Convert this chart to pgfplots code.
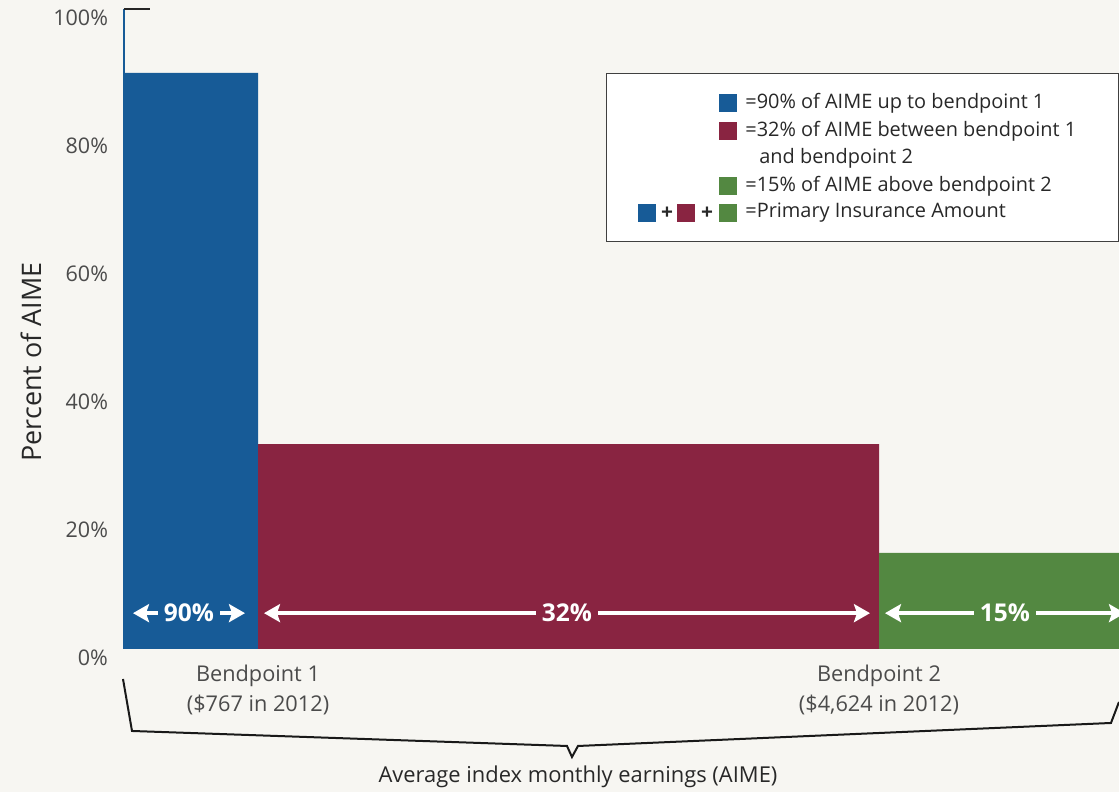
\documentclass[border=0pt]{standalone}
\usepackage{pgfplots}
\pgfplotsset{compat=1.18}
\usepackage{fontspec}
\setmainfont{Open Sans}
\usetikzlibrary{arrows.meta}
\definecolor{bgc}{RGB}{247,246,242}
\definecolor{bblue}{RGB}{23,91,151}
\definecolor{bred}{RGB}{137,36,65}
\definecolor{bgreen}{RGB}{83,136,65}
\definecolor{txt}{RGB}{75,75,75}
\definecolor{ltxt}{RGB}{40,40,40}
\begin{document}
\begin{tikzpicture}
\useasboundingbox (0,0) rectangle (559.5bp,396bp);
\fill[bgc] (0,0) rectangle (559.5bp,396bp);
\begin{axis}[at={(61.5bp,71.5bp)}, anchor=south west, scale only axis,
  width=498bp, height=320bp, xmin=0, xmax=996, ymin=0, ymax=100,
  axis line style={draw=none}, xtick=\empty, ytick={0,20,...,100},
  yticklabels={0\%,20\%,40\%,60\%,80\%,100\%}, major tick length=0pt,
  yticklabel style={font=\fontsize{10.8}{13}\selectfont, text=txt, yshift=-4.5bp, xshift=-4bp},
  clip=false]
\addplot[const plot, fill=bblue, draw=none] coordinates {(0,90) (135,90)} \closedcycle;
\addplot[const plot, fill=bred, draw=none] coordinates {(135,32) (756,32)} \closedcycle;
\addplot[const plot, fill=bgreen, draw=none] coordinates {(756,15) (996,15)} \closedcycle;
\tikzset{wa/.style={white, line width=2.2bp, {Stealth[length=8bp,width=9bp,inset=1.5bp]}-{Stealth[length=8bp,width=9bp,inset=1.5bp]}},
  wl/.style={midway, inner xsep=3bp, inner ysep=1bp, font=\bfseries\fontsize{12.3}{14}\selectfont, text=white}}
\draw[wa] (axis cs:10,5.6) -- (axis cs:122,5.6) node[wl, fill=bblue]{90\%};
\draw[wa] (axis cs:141,5.6) -- (axis cs:747,5.6) node[wl, fill=bred]{32\%};
\draw[wa] (axis cs:762,5.6) -- (axis cs:1002,5.6) node[wl, fill=bgreen]{15\%};
\end{axis}
\begin{scope}[x=0.5bp,y=-0.5bp,shift={(0,396bp)}]
  \draw[bblue, line width=0.6bp] (124,9) -- (124,649);
  \draw[black!85, line width=1.1bp] (124,9) -- (150,9);
  \node[rotate=90, text=ltxt, font=\fontsize{13.5}{15}\selectfont] at (31,362) {Percent of AIME};
  \node[align=center, text=txt, font=\fontsize{10.9}{15}\selectfont] at (258,690) {Bendpoint 1\\(\$767 in 2012)};
  \node[align=center, text=txt, font=\fontsize{10.9}{15}\selectfont] at (879,690) {Bendpoint 2\\(\$4,624 in 2012)};
  \draw[black!90, line width=1bp, line join=miter] (123,679) -- (132,731) -- (567,746) -- (572,757) -- (578,746) -- (1111,723) -- (1119,702);
  \node[text=ltxt, font=\fontsize{11}{13}\selectfont] at (578,777) {Average index monthly earnings (AIME)};
  \draw[fill=white, draw=black!75, line width=0.5bp] (607,74) rectangle (1118.5,242);
  \fill[bblue] (719,94) rectangle (737,112);
  \fill[bred] (719,122) rectangle (737,140);
  \fill[bgreen] (719,177) rectangle (737,195);
  \fill[bblue] (638,204) rectangle (656,222);
  \fill[bred] (677,204) rectangle (695,222);
  \fill[bgreen] (719,204) rectangle (737,222);
  \tikzset{lt/.style={anchor=west, text=ltxt, font=\fontsize{10}{12}\selectfont, inner sep=0pt}}
  \node[lt] at (745,103) {=90\% of AIME up to bendpoint 1};
  \node[lt] at (745,131) {=32\% of AIME between bendpoint 1};
  \node[lt] at (759,158) {and bendpoint 2};
  \node[lt] at (745,186) {=15\% of AIME above bendpoint 2};
  \node[lt] at (745,213) {=Primary Insurance Amount};
  \node[text=ltxt, font=\bfseries\fontsize{10.5}{12}\selectfont, inner sep=0pt] at (667,213) {+};
  \node[text=ltxt, font=\bfseries\fontsize{10.5}{12}\selectfont, inner sep=0pt] at (707,213) {+};
\end{scope}
\end{tikzpicture}
\end{document}
